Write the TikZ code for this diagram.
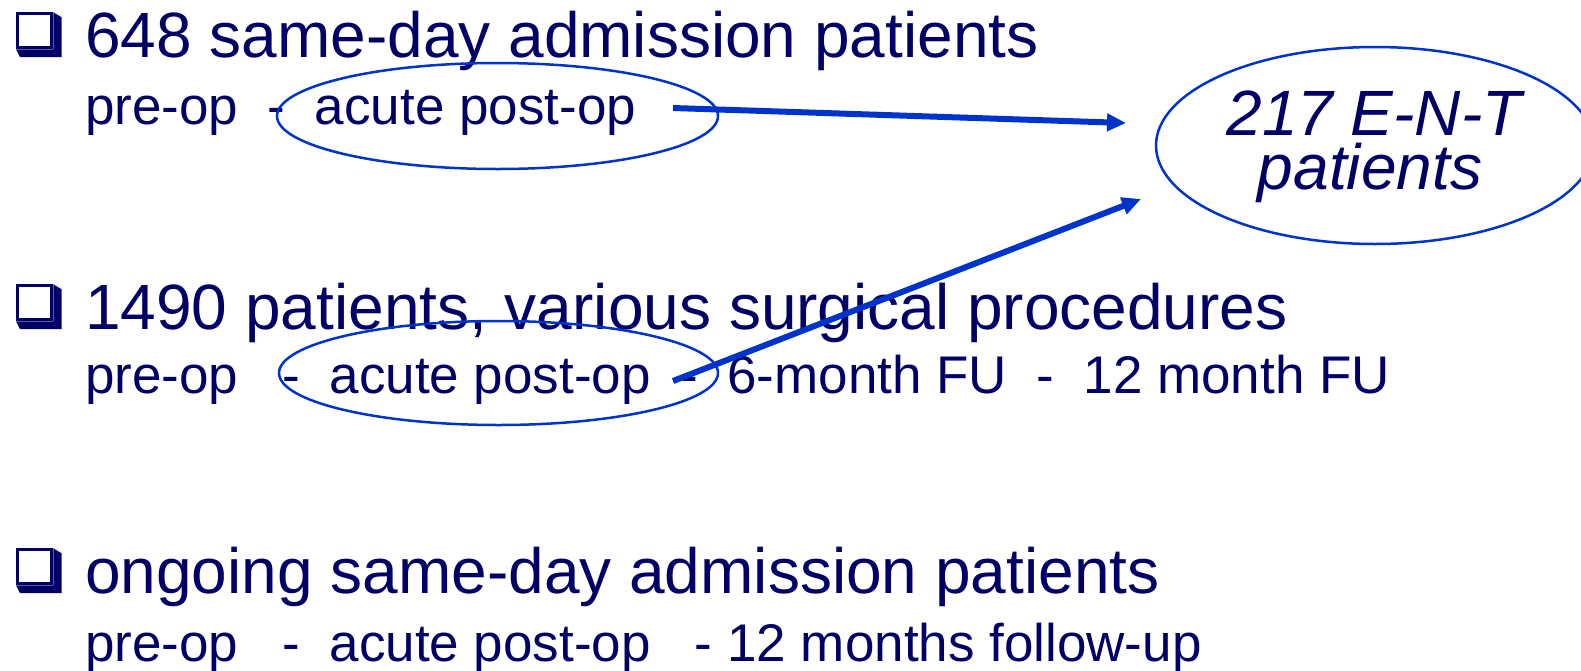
\documentclass[tikz,border=0pt]{standalone}
\usepackage{fontspec}
\setmainfont{Liberation Sans}
\usetikzlibrary{arrows.meta,shapes.geometric}
\definecolor{navy}{RGB}{0,0,102}
\definecolor{lineblue}{RGB}{0,51,204}
\begin{document}
\begin{tikzpicture}[x=1pt,y=-1pt,
  big/.style={anchor=base west,inner sep=0pt,text=navy,font=\fontsize{64}{64}\selectfont},
  small/.style={anchor=base west,inner sep=0pt,text=navy,font=\fontsize{53}{53}\selectfont},
  enttext/.style={anchor=base,inner sep=0pt,text=navy,font=\fontsize{64}{64}\selectfont\itshape},
  ring/.style={ellipse,draw=lineblue,line width=2.5pt,inner sep=0pt},
  link/.style={draw=lineblue,line width=6pt,-{Triangle[length=19pt,width=17pt]}},
  qbox/.pic={
    \fill[navy] (53.3,-44.7) -- (61.7,-39.7) -- (61.7,0) -- (20,0) -- (16,-7.7) -- (53.3,-7.7) -- cycle;
    \draw[navy,line width=3pt] (17,-43.2) rectangle (51.8,-9.2);
  }
]
\useasboundingbox (0,0) rectangle (1581,670);

% item 1
\pic at (0,57) {qbox};
\node[big] (t1) at (85,57) {648 same-day admission patients};
\node[small] (s1) at (85,124) {pre-op~~-~~acute post-op};

% item 2
\pic at (0,329) {qbox};
\node[big] (t2) at (85,329) {1490 patients, various surgical procedures};
\node[small] (s2) at (85,393) {pre-op~~~-~~acute post-op~~-~~6-month FU~~-~~12 month FU};

% item 3
\pic at (0,593) {qbox};
\node[big] (t3) at (85,593) {ongoing same-day admission patients};
\node[small] (s3) at (85,661) {pre-op~~~-~~acute post-op~~~-~12 months follow-up};

% ENT ellipse
\node[enttext] (ent1) at (1374,135) {217 E-N-T};
\node[enttext] (ent2) at (1370,189) {patients};
\node[ring,minimum width=438pt,minimum height=197pt] (ent) at (1375,145.5) {};

% ellipses around acute post-op
\node[ring,minimum width=441pt,minimum height=106pt] (e1) at (497.5,116) {};
\node[ring,minimum width=439pt,minimum height=104pt] (e2) at (498.5,373) {};

% arrows
\coordinate (a1s) at (673,108);
\coordinate (a1e) at (1126,123);
\coordinate (a2s) at (673,381);
\coordinate (a2e) at (1141,199);
\draw[link] (a1s) -- (a1e);
\draw[link] (a2s) -- (a2e);
\end{tikzpicture}
\end{document}
